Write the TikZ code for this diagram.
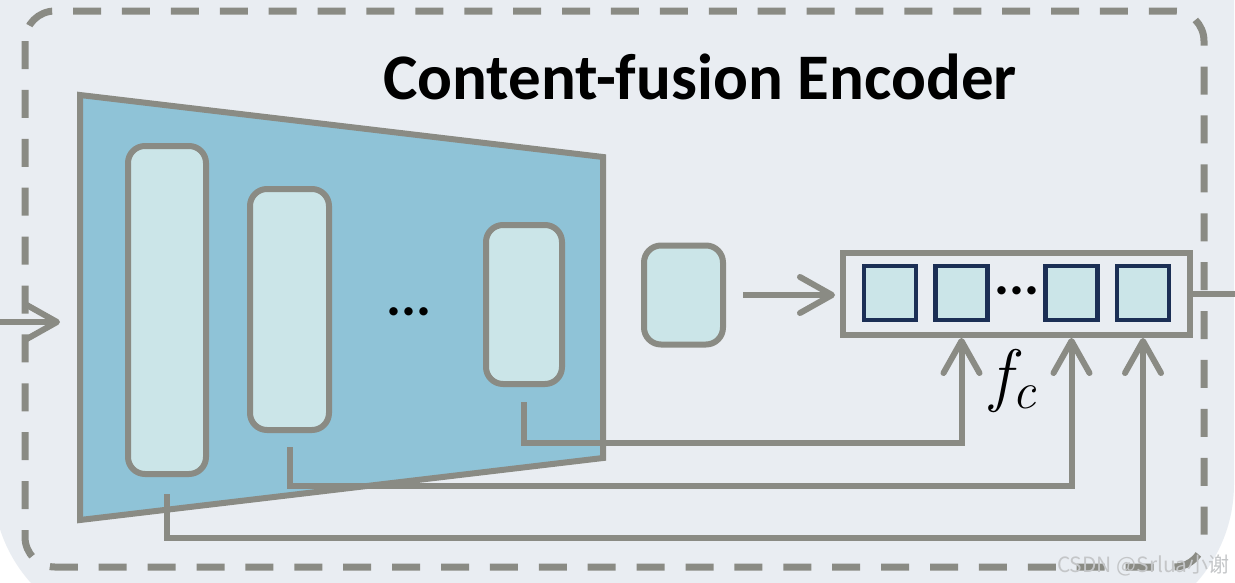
\documentclass[tikz,border=0pt]{standalone}
\usepackage{fontspec}
\newfontfamily\calib{Carlito}
\newfontfamily\cjkfont{Noto Sans CJK SC}
\usetikzlibrary{arrows.meta,calc}
\definecolor{bgc}{HTML}{E9EDF2}
\definecolor{lgray}{HTML}{8A8B84}
\definecolor{trapc}{HTML}{8FC3D7}
\definecolor{cellc}{HTML}{CBE5E8}
\definecolor{navyc}{HTML}{1B2F55}
\definecolor{wmc}{HTML}{C4C6C8}
\begin{document}
\begin{tikzpicture}[x=1pt,y=-1pt,
  grayline/.style={draw=lgray, line width=6pt},
  lay/.style 2 args={grayline, fill=cellc, rounded corners=17pt, inner sep=0pt, minimum width=#1, minimum height=#2},
  sqbox/.style={draw=navyc, line width=4.5pt, fill=cellc, inner sep=0pt, minimum width=52pt, minimum height=54pt},
  conn/.style={draw=lgray, line width=6pt, line join=miter},
  arr/.style={conn, -{Straight Barb[length=32pt,width=36pt,round]}},
  dotstext/.style={font=\calib\fontsize{56}{56}\selectfont\bfseries, inner sep=0pt, anchor=base}
]
\useasboundingbox (0,0) rectangle (1235,582);
\fill[white] (0,0) rectangle (1235,582);
\fill[bgc, rounded corners=148pt] (-7,-300) rectangle (1234,632);
% dashed frame
\draw[lgray, line width=7pt, dash pattern=on 28pt off 20.9pt, rounded corners=30pt] (25,11) rectangle (1204,567);
% title
\node[font=\calib\fontsize{65}{65}\selectfont\bfseries, anchor=base, inner sep=0pt] (title) at (700,99) {Content-fusion Encoder};
% encoder trapezoid
\draw[grayline, fill=trapc, line join=miter] (80,95) -- (603,157) -- (603,458) -- (80,520) -- cycle;
% layers
\node[lay={78pt}{328pt}] (b1) at (167,310) {};
\node[lay={79pt}{241pt}] (b2) at (289.5,309.5) {};
\node[lay={76pt}{159pt}] (b3) at (524,304.5) {};
\node[dotstext] (dots1) at (409,315) {...};
\node[lay={79pt}{99pt}] (sb) at (683.5,295) {};
% feature box
\node[grayline, inner sep=0pt, minimum width=347pt, minimum height=82pt] (fb) at (1016.5,294) {};
\node[sqbox] (sq1) at (890,293) {};
\node[sqbox] (sq2) at (961.5,293) {};
\node[sqbox] (sq3) at (1071.5,293) {};
\node[sqbox] (sq4) at (1143,293) {};
\node[dotstext] (dots2) at (1017,294) {...};
\node[anchor=base west, inner sep=0pt, font=\fontsize{70}{70}\selectfont\itshape] (fc) at (990,398) {f\kern1pt\raisebox{-10pt}{\fontsize{52}{52}\selectfont c}};
% input / output
\coordinate (inL) at (0,322);
\coordinate (inR) at (60,322);
\coordinate (outR) at (1235,296);
\draw[arr] (inL) -- (inR);
\draw[conn] (fb.east) -- (fb.east -| outR);
\draw[arr, shorten <=17pt, shorten >=5pt] (sb.east) -- (sb.east -| fb.west);
% skip connections
\draw[arr, shorten <=15pt] (b3.south) -- (b3.south |- 0,443) -- (sq2.south |- 0,443) -- (sq2.south |- fb.south);
\draw[arr, shorten <=14pt] (b2.south) -- (b2.south |- 0,486) -- (sq3.south |- 0,486) -- (sq3.south |- fb.south);
\draw[arr, shorten <=17pt] (b1.south) -- (b1.south |- 0,538) -- (sq4.south |- 0,538) -- (sq4.south |- fb.south);
% watermark
\node[anchor=base east, inner sep=0pt, text=wmc, font=\cjkfont\fontsize{21}{21}\selectfont] (wm) at (1230,572) {CSDN @Srlua小谢};
\end{tikzpicture}
\end{document}
